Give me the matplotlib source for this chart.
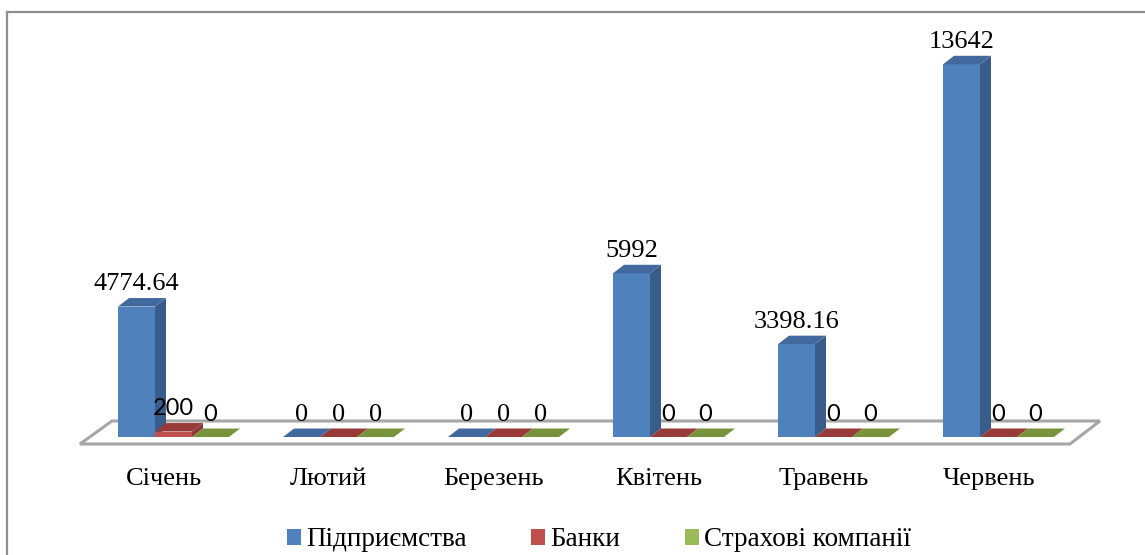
import matplotlib
matplotlib.use("Agg")
import matplotlib.pyplot as plt
from matplotlib.patches import Polygon, Patch
from matplotlib.lines import Line2D

# data
months = ["Січень", "Лютий", "Березень", "Квітень", "Травень", "Червень"]
series_names = ["Підприємства", "Банки", "Страхові компанії"]
enterprises = [4774.64, 0, 0, 5992, 3398.16, 13642]
banks = [200, 0, 0, 0, 0, 0]
insurers = [0, 0, 0, 0, 0, 0]
value_labels = [
    ["4774.64", "0", "0", "5992", "3398.16", "13642"],
    ["200", "0", "0", "0", "0", "0"],
    ["0", "0", "0", "0", "0", "0"],
]
# which labels look sans (calibri-like) in the original
sans_label = [
    [False] * 6,
    [True, False, False, True, True, True],
    [True, False, False, True, True, True],
]

# colours: front, side, top
colors = [
    ("#4F81BD", "#385D8A", "#41699D"),
    ("#C0504D", "#8C3836", "#983B38"),
    ("#9BBB59", "#71893F", "#77933C"),
]

W, H = 1145, 555
PX_CAT = 165.0       # px per category
CX0 = 173.5          # px of first group centre
PX_VAL = 0.02732     # px per unit
BASE = 437.0         # px of zero line

fig = plt.figure(figsize=(W / 100, H / 100), dpi=100)
ax = fig.add_axes([0, 0, 1, 1])
ax.set_xlim(-CX0 / PX_CAT, (W - CX0) / PX_CAT)
ax.set_ylim((BASE - H) / PX_VAL, BASE / PX_VAL)
ax.axis("off")

bw = 37 / PX_CAT
dx = 11 / PX_CAT
dy = 8.5 / PX_VAL

# floor
f_front = (BASE - 444) / PX_VAL
f_back = (BASE - 421) / PX_VAL
floor = Polygon([(-0.567, f_front), (5.433, f_front), (5.615, f_back), (-0.373, f_back)],
                closed=True, facecolor="white", edgecolor="#A6A6A6", lw=2.2, zorder=1)
ax.add_patch(floor)

data = [enterprises, banks, insurers]
for i in range(len(months)):
    for s, vals in enumerate(data):
        v = vals[i]
        x0 = i - 1.5 * bw + s * bw
        x1 = x0 + bw
        front, side, top = colors[s]
        z = 2 + i * 3 + s
        if v > 0:
            ax.add_patch(Polygon([(x1, 0), (x1 + dx, dy), (x1 + dx, v + dy), (x1, v)],
                                 facecolor=side, edgecolor="none", zorder=z))
            ax.add_patch(Polygon([(x0, 0), (x1, 0), (x1, v), (x0, v)],
                                 facecolor=front, edgecolor="none", zorder=z))
        ax.add_patch(Polygon([(x0, v), (x1, v), (x1 + dx, v + dy), (x0 + dx, v + dy)],
                             facecolor=top, edgecolor="none", zorder=z))
        if sans_label[s][i]:
            fam, fs = "Lato", 17
        else:
            fam, fs = "Liberation Serif", 19
        ax.annotate(value_labels[s][i], (i - bw + s * bw, v + dy), xytext=(0, 5.5),
                    textcoords="offset points", ha="center", va="baseline",
                    fontsize=fs, family=fam, color="black", zorder=50)

# category labels
for i, m in enumerate(months):
    ax.text(i - 10 / PX_CAT, (BASE - 485) / PX_VAL, m, ha="center", va="baseline",
            fontsize=19, family="Liberation Serif")

# legend
handles = [Patch(facecolor=c[0], edgecolor="none") for c in colors]
fig.legend(handles, series_names, loc="center", bbox_to_anchor=(599 / W, 1 - 540 / H),
           ncol=3, frameon=False, prop={"family": "Liberation Serif", "size": 19.5},
           handlelength=0.52, handleheight=0.52, handletextpad=0.18, columnspacing=2.4,
           borderpad=0.1)

# chart border (top and left only visible)
fig.add_artist(Line2D([7 / W, 1], [1 - 12 / H, 1 - 12 / H], color="#8E8E8E", lw=1.6))
fig.add_artist(Line2D([7 / W, 7 / W], [0, 1 - 12 / H], color="#8E8E8E", lw=1.6))

fig.savefig("out.png", dpi=100)
